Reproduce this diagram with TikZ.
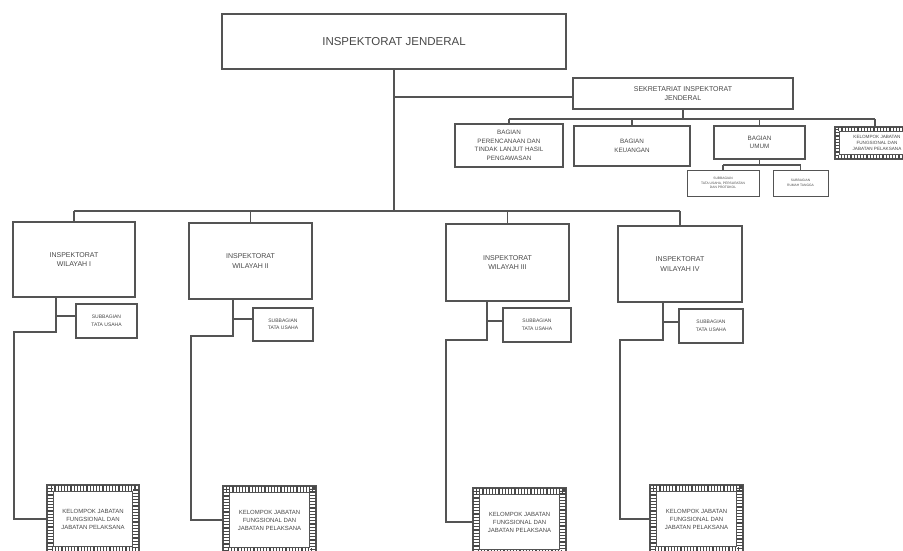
\documentclass[tikz,border=0pt]{standalone}
\usepackage{fontspec}
\setmainfont{Liberation Sans}
\definecolor{linegray}{gray}{0.33}
\definecolor{textgray}{gray}{0.28}
% patterned double frame used for the functional-group boxes
% #1 = band width, #2 = node name
\newcommand\kelframe[2]{%
  \draw[linegray, line width=1pt]
    ([shift={(#1,#1)}]#2.north west) rectangle ([shift={(-#1,-#1)}]#2.south east);
  \draw[linegray!85!black, line width=#1pt-1.5pt, dash pattern=on 1.2pt off 2pt]
    ([shift={(#1/2,#1/2)}]#2.north west) rectangle ([shift={(-#1/2,-#1/2)}]#2.south east);
}
\begin{document}
\begin{tikzpicture}[x=1pt,y=-1pt,
  box/.style={draw=linegray, line width=1.2pt, inner sep=1pt, align=center, text=textgray},
  kel/.style={draw=linegray, line width=1.2pt, inner sep=1pt, align=center, text=textgray},
  wire/.style={draw=linegray, line width=1.1pt},
  fbig/.style={font=\fontsize{11.5}{13}\selectfont},
  fmid/.style={font=\fontsize{7}{9.3}\selectfont},
  fbag/.style={font=\fontsize{6.3}{8.6}\selectfont},
  fsub/.style={font=\fontsize{5}{7.5}\selectfont},
  ftiny/.style={font=\fontsize{3.3}{4.3}\selectfont},
  fkel/.style={font=\fontsize{6}{8}\selectfont},
  fkels/.style={font=\fontsize{4.6}{6.3}\selectfont},
]
\path[use as bounding box, clip] (0,0) rectangle (903,550);

% ---- top level
\node[box, fbig, minimum width=344pt, minimum height=55pt] (ij) at (394,41.5) {INSPEKTORAT JENDERAL};
\node[box, fmid, minimum width=220pt, minimum height=31pt] (sek) at (683,93.5) {SEKRETARIAT INSPEKTORAT\\JENDERAL};

% ---- secretariat units
\node[box, fbag, minimum width=108pt, minimum height=43pt] (ren) at (509,145.5)
  {BAGIAN\\PERENCANAAN DAN\\TINDAK LANJUT HASIL\\PENGAWASAN};
\node[box, fbag, minimum width=116pt, minimum height=40pt] (keu) at (632,146) {BAGIAN\\KEUANGAN};
\node[box, fbag, minimum width=91pt, minimum height=33pt] (umum) at (759.5,142.5) {BAGIAN\\UMUM};
\node[kel, fkels, minimum width=84pt, minimum height=32pt] (kel0) at (877,143) {KELOMPOK JABATAN\\FUNGSIONAL DAN\\JABATAN PELAKSANA};
\node[box, ftiny, line width=1pt, minimum width=72pt, minimum height=26pt] (sa) at (723,183)
  {SUBBAGIAN\\TATA USAHA, PERSURATAN\\DAN PROTOKOL};
\node[box, ftiny, line width=1pt, minimum width=55pt, minimum height=26pt] (sb) at (800.5,183)
  {SUBBAGIAN\\RUMAH TANGGA};

% ---- regional inspectorates
\node[box, fmid, minimum width=122pt, minimum height=75pt] (w1) at (74,259.5) {INSPEKTORAT\\WILAYAH I};
\node[box, fmid, minimum width=123pt, minimum height=76pt] (w2) at (250.5,261) {INSPEKTORAT\\WILAYAH II};
\node[box, fmid, minimum width=123pt, minimum height=77pt] (w3) at (507.5,262.5) {INSPEKTORAT\\WILAYAH III};
\node[box, fmid, minimum width=124pt, minimum height=76pt] (w4) at (680,264) {INSPEKTORAT\\WILAYAH IV};

\node[box, fsub, minimum width=61pt, minimum height=34pt] (s1) at (106.5,321) {SUBBAGIAN\\TATA USAHA};
\node[box, fsub, minimum width=60pt, minimum height=33pt] (s2) at (283,324.5) {SUBBAGIAN\\TATA USAHA};
\node[box, fsub, minimum width=68pt, minimum height=34pt] (s3) at (537,325) {SUBBAGIAN\\TATA USAHA};
\node[box, fsub, minimum width=64pt, minimum height=34pt] (s4) at (711,326) {SUBBAGIAN\\TATA USAHA};

\node[kel, fkel, minimum width=92pt, minimum height=68pt] (k1) at (93,519) {KELOMPOK JABATAN\\FUNGSIONAL DAN\\JABATAN PELAKSANA};
\node[kel, fkel, minimum width=93pt, minimum height=68pt] (k2) at (269.5,520) {KELOMPOK JABATAN\\FUNGSIONAL DAN\\JABATAN PELAKSANA};
\node[kel, fkel, minimum width=93pt, minimum height=68pt] (k3) at (519.5,522) {KELOMPOK JABATAN\\FUNGSIONAL DAN\\JABATAN PELAKSANA};
\node[kel, fkel, minimum width=93pt, minimum height=68pt] (k4) at (696.5,519) {KELOMPOK JABATAN\\FUNGSIONAL DAN\\JABATAN PELAKSANA};

\kelframe{5}{kel0}
\kelframe{7}{k1}
\kelframe{7}{k2}
\kelframe{7}{k3}
\kelframe{7}{k4}

% ---- connectors: top
\coordinate (jsek) at (ij.south |- 0,97);
\coordinate (jbar) at (ij.south |- 0,211);
\draw[wire] (ij.south) -- (jbar);
\draw[wire] (jsek) -- (sek.west |- jsek);

% secretariat bar
\coordinate (sbar) at (sek.south |- 0,119);
\draw[wire] (sek.south) -- (sbar);
\draw[wire] (ren.north |- sbar) -- (875,119);
\foreach \n in {ren,keu,umum} \draw[wire] (\n.north |- sbar) -- (\n.north);
\draw[wire] (875,119) -- (kel0.north -| 875,0);

% general affairs bar
\coordinate (ubar) at (umum.south |- 0,165);
\draw[wire] (umum.south) -- (ubar);
\draw[wire] (sa.north |- ubar) -- (sb.north |- ubar);
\foreach \n in {sa,sb} \draw[wire] (\n.north |- ubar) -- (\n.north);

% regional bar
\draw[wire] (w1.north |- jbar) -- (w4.north |- jbar);
\foreach \n in {w1,w2,w3,w4} \draw[wire] (\n.north |- jbar) -- (\n.north);

% regional trunks: subdivision and functional group
\draw[wire] (w1.south -| 56,0) -- (56,332) -| (k1.west -| 14,0) -- (k1.west);
\draw[wire] (56,316) -- (s1.west |- 0,316);
\draw[wire] (w2.south -| 233,0) -- (233,336) -| (k2.west -| 191,0) -- (k2.west);
\draw[wire] (233,319) -- (s2.west |- 0,319);
\draw[wire] (w3.south -| 487,0) -- (487,340) -| (k3.west -| 446,0) -- (k3.west);
\draw[wire] (487,321) -- (s3.west |- 0,321);
\draw[wire] (w4.south -| 663,0) -- (663,340) -| (k4.west -| 620,0) -- (k4.west);
\draw[wire] (663,322) -- (s4.west |- 0,322);
\end{tikzpicture}
\end{document}
